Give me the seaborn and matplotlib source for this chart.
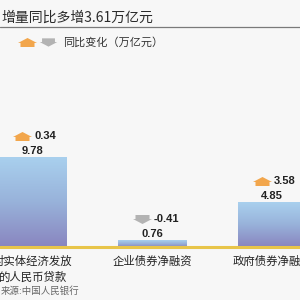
import numpy as np
import pandas as pd
import matplotlib
matplotlib.use("Agg")
import matplotlib.pyplot as plt
from matplotlib.path import Path
from matplotlib.colors import LinearSegmentedColormap
from matplotlib.transforms import offset_copy
import seaborn as sns

# ---- data ----
categories = ["对实体经济发放\n的人民币贷款", "企业债券净融资", "政府债券净融资"]
values = [9.78, 0.76, 4.85]
changes = [0.34, -0.41, 3.58]
title_text = "增量同比多增3.61万亿元"
legend_text = "同比变化（万亿元）"
source_text = "来源:中国人民银行"

BG = "#f7f7f7"
sns.set_theme(style="white")
plt.rcParams["font.family"] = ["Noto Sans CJK SC", "DejaVu Sans"]
NUM_FONT = ["Liberation Sans Narrow", "Liberation Sans", "DejaVu Sans"]

fig = plt.figure(figsize=(3, 3), dpi=100, facecolor=BG)
ax = fig.add_axes([0, 53 / 300, 1, 187 / 300])
ax.set_facecolor("none")

df = pd.DataFrame({"cat": categories, "val": values})
sns.barplot(data=df, x="cat", y="val", ax=ax, width=0.567, color="#a0c4e6",
            saturation=1, errorbar=None)
ax.set_xlim(-0.267, 2.233)
ax.set_ylim(0, 20.33)

# gradient fill for bars
cmap = LinearSegmentedColormap.from_list("g", ["#8985bf", "#98b2da", "#a9d0ee"])
grad = np.linspace(0, 1, 256).reshape(-1, 1)
for p in ax.patches:
    x0, w, h = p.get_x(), p.get_width(), p.get_height()
    ax.imshow(grad, extent=(x0, x0 + w, 0, h), origin="lower", cmap=cmap,
              aspect="auto", zorder=2, clip_on=False)
    p.set_facecolor("none")
    p.set_edgecolor("none")
ax.set_xlim(-0.267, 2.233)
ax.set_ylim(0, 20.33)

for s in ax.spines.values():
    s.set_visible(False)
ax.set_yticks([])
ax.set_xlabel("")
ax.set_ylabel("")
ax.tick_params(axis="x", length=0, pad=6, labelsize=8.2, colors="#222222")
for t in ax.get_xticklabels():
    t.set_linespacing(1.5)

# yellow baseline
ax.axhline(0, color="#e8c54a", lw=2.2, zorder=3, clip_on=False)

# arrow markers (pixel units)
up_verts = [(0, 4.5), (9.5, -0.5), (7, -0.5), (7, -4.5), (-7, -4.5), (-7, -0.5), (-9.5, -0.5), (0, 4.5)]
down_verts = [(x, -y) for x, y in up_verts]
up_m = Path(up_verts, closed=True)
down_m = Path(down_verts, closed=True)
msize = (9.5 * 2 * 72 / 100) ** 2
UP_C = "#f2a64c"
DOWN_C = "#b3b3b3"

for i, (v, c) in enumerate(zip(values, changes)):
    ax.annotate(f"{v:.2f}", xy=(i, v), xytext=(0, 6.5), textcoords="offset pixels",
                ha="center", va="center", fontsize=8, fontweight="bold",
                family=NUM_FONT, color="#222222", zorder=5)
    tr = offset_copy(ax.transData, fig=fig, x=-10, y=21, units="dots")
    ax.scatter([i], [v], marker=up_m if c >= 0 else down_m, s=msize,
               color=UP_C if c >= 0 else DOWN_C, transform=tr, linewidths=0,
               zorder=5, clip_on=False)
    ax.annotate(f"{c:.2f}", xy=(i, v), xytext=(2, 21), textcoords="offset pixels",
                ha="left", va="center", fontsize=8, fontweight="bold",
                family=NUM_FONT, color="#222222", zorder=5)

# header overlay in pixel coordinates
ov = fig.add_axes([0, 0, 1, 1])
ov.set_xlim(0, 300)
ov.set_ylim(300, 0)
ov.axis("off")
ov.patch.set_alpha(0)
ov.text(1, 18, title_text, ha="left", va="center", fontsize=10,
        fontweight="medium", color="#2b2b2b")
ov.plot([0, 300], [26.5, 26.5], color="#7a7a7a", lw=0.9)
ov.scatter([27], [42], marker=up_m, s=msize, color=UP_C, linewidths=0)
ov.scatter([48], [42], marker=down_m, s=msize * 0.85, color=DOWN_C, linewidths=0)
ov.text(63, 42, legend_text, ha="left", va="center", fontsize=8,
        fontweight="medium", color="#333333")
ov.text(1, 291, source_text, ha="left", va="center", fontsize=6.8, color="#666666")

fig.savefig("out.png", dpi=100, facecolor=BG)
